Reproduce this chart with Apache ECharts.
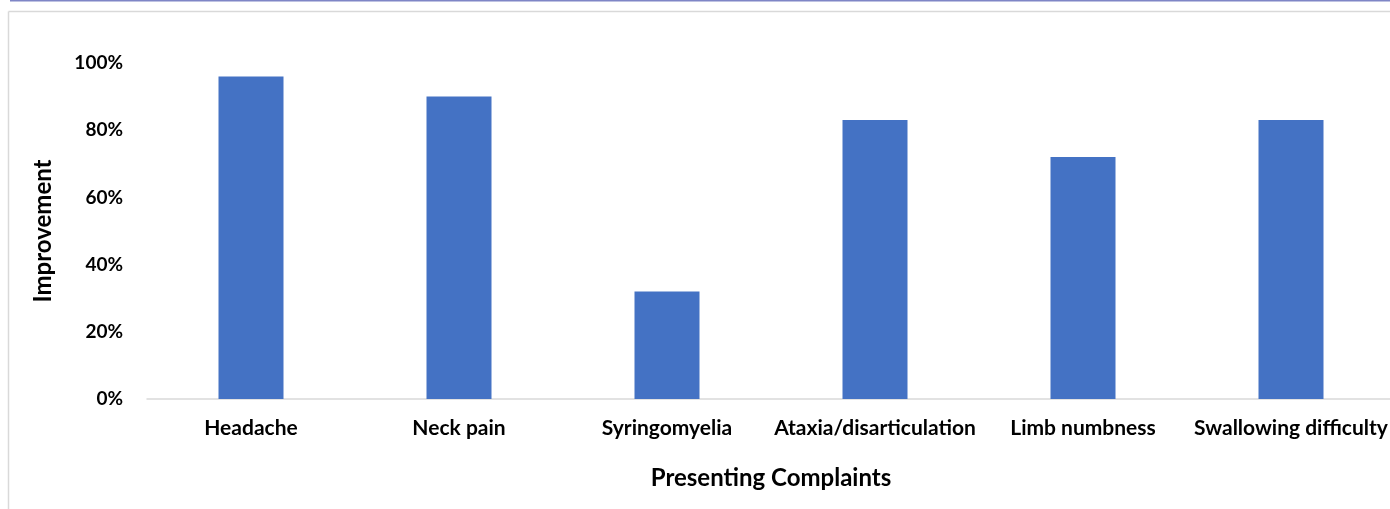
<!DOCTYPE html>
<html>
<head>
<meta charset="utf-8">
<script src="https://cdn.jsdelivr.net/npm/echarts@6/dist/echarts.min.js"></script>
<style>
  html, body { margin: 0; padding: 0; background: #fff; overflow: hidden; }
  #chart { width: 1400px; height: 509px; }
</style>
</head>
<body>
<div id="chart"></div>
<script>
  var complaints = ['Headache', 'Neck pain', 'Syringomyelia', 'Ataxia/disarticulation', 'Limb numbness', 'Swallowing difficulty'];
  var improvement = [0.96, 0.90, 0.32, 0.83, 0.72, 0.83];
  var yTicks = [0, 0.2, 0.4, 0.6, 0.8, 1.0];

  var chartDom = document.getElementById('chart');
  var myChart = echarts.init(chartDom);
  var font = 'Lato, "Open Sans", sans-serif';
  var option;

  option = {
    animation: false,
    backgroundColor: '#fff',
    graphic: [
      // frame lines around the plot
      { type: 'line', shape: { x1: 10, y1: 0.5, x2: 1400, y2: 0.5 }, style: { stroke: '#7f86c6', lineWidth: 2 } },
      { type: 'line', shape: { x1: 8.5, y1: 11.5, x2: 1400, y2: 11.5 }, style: { stroke: '#d9d9d9', lineWidth: 1.5 } },
      { type: 'line', shape: { x1: 8.5, y1: 11.5, x2: 8.5, y2: 509 }, style: { stroke: '#d9d9d9', lineWidth: 1.5 } }
    ],
    grid: {
      left: 147,
      right: 5,
      top: 63,
      bottom: 110
    },
    xAxis: {
      type: 'category',
      data: complaints,
      name: 'Presenting Complaints',
      nameLocation: 'middle',
      nameGap: 67,
      nameTextStyle: { fontFamily: font, fontWeight: 'bold', fontSize: 24, color: '#000' },
      axisLine: { lineStyle: { color: '#d9d9d9', width: 1.5 } },
      axisTick: { show: false },
      axisLabel: { fontFamily: font, fontWeight: 'bold', fontSize: 21, color: '#000', margin: 19, interval: 0 }
    },
    yAxis: {
      type: 'value',
      min: yTicks[0],
      max: yTicks[yTicks.length - 1],
      interval: 0.2,
      name: 'Improvement',
      nameLocation: 'middle',
      nameGap: 92,
      nameTextStyle: { fontFamily: font, fontWeight: 'bold', fontSize: 24, color: '#000' },
      splitLine: { show: false },
      axisLine: { show: false },
      axisTick: { show: false },
      axisLabel: {
        fontFamily: font, fontWeight: 'bold', fontSize: 19, color: '#000', margin: 24,
        formatter: function (v) { return Math.round(v * 100) + '%'; }
      }
    },
    series: [
      {
        type: 'bar',
        data: improvement,
        barWidth: 65,
        itemStyle: { color: '#4472c4' }
      }
    ]
  };
  option && myChart.setOption(option);
</script>
</body>
</html>
